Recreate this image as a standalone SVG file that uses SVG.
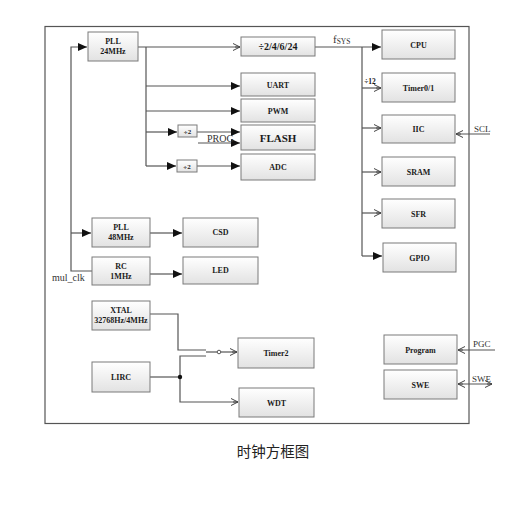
<svg xmlns="http://www.w3.org/2000/svg" width="526" height="515" viewBox="0 0 526 515">
<defs>
<linearGradient id="g" x1="0" y1="0" x2="0" y2="1">
<stop offset="0" stop-color="#ffffff"/>
<stop offset="1" stop-color="#e2e2e2"/>
</linearGradient>
<marker id="af" markerUnits="userSpaceOnUse" markerWidth="10" markerHeight="8" refX="9" refY="4" orient="auto">
<path d="M0,0 L9,4 L0,8 z" fill="#111"/>
</marker>
<marker id="ao" markerUnits="userSpaceOnUse" markerWidth="10" markerHeight="8" refX="8" refY="4" orient="auto">
<path d="M1,0.5 L8,4 L1,7.5 M3,4 L8,4" fill="none" stroke="#444" stroke-width="1"/>
</marker>
<marker id="aos" markerUnits="userSpaceOnUse" markerWidth="10" markerHeight="8" refX="8" refY="4" orient="auto-start-reverse">
<path d="M1,0.5 L8,4 L1,7.5 M3,4 L8,4" fill="none" stroke="#444" stroke-width="1"/>
</marker>
</defs>
<style>
.b{fill:url(#g);stroke:#7a7a7a;stroke-width:1}
.t{font-family:"Liberation Serif",serif;font-weight:bold;font-size:8px;fill:#1a1a1a;text-anchor:middle}
.l{font-family:"Liberation Serif",serif;font-size:10px;fill:#333}
.c{fill:none;stroke:#555;stroke-width:1.2}
.f{marker-end:url(#af)}
.o{marker-end:url(#ao)}
</style>
<rect x="45" y="26.5" width="424" height="397" fill="#fff" stroke="#555" stroke-width="1.2"/>

<g id="connectors">
<path class="c o" d="M138,47 H240"/>
<path class="c" d="M146,47 V166"/>
<path class="c f" d="M146,86 H240"/>
<path class="c f" d="M146,111 H240"/>
<path class="c f" d="M146,132 H177"/>
<path class="c f" d="M197,132 H240"/>
<path class="c f" d="M198,143 H240"/>
<path class="c f" d="M146,166 H176"/>
<path class="c f" d="M197,166 H240"/>
<path class="c f" d="M92,271 H71 V47 H87"/>
<path class="c f" d="M71,233 H91"/>
<path class="c f" d="M150,233 H182"/>
<path class="c f" d="M150,274 H182"/>
<path class="c f" d="M315,47 H381"/>
<path class="c" d="M362,47 V256"/>
<path class="c o" d="M362,88 H381"/>
<path class="c o" d="M362,128 H381"/>
<path class="c o" d="M362,172 H381"/>
<path class="c o" d="M362,213 H381"/>
<path class="c f" d="M362,256 H382"/>
<path class="c o" d="M490,134 H456"/>
<path class="c o" d="M495,350 H458"/>
<path class="c" d="M458,384 H492" marker-start="url(#aos)" marker-end="url(#ao)"/>
<path class="c" d="M150,314 H178 V350 H206"/>
<path class="c" d="M150,377 H180"/>
<path class="c o" d="M206,356 H180 V402 H238"/>
<path class="c" d="M206,352 H217"/>
<circle cx="219" cy="352" r="1.8" fill="#fff" stroke="#555" stroke-width="1"/>
<path class="c o" d="M221,352 H237"/>
<circle cx="180" cy="377" r="2.2" fill="#111"/>
</g>

<g id="pll24"><rect class="b" x="88" y="32" width="50" height="29"/><text class="t" x="113" y="44">PLL</text><text class="t" x="113" y="54">24MHz</text></g>
<g id="div"><rect class="b" x="241" y="37" width="74" height="19"/><text class="t" x="278" y="50" style="font-size:10px">÷2/4/6/24</text></g>
<g id="uart"><rect class="b" x="241" y="73" width="74" height="23"/><text class="t" x="278" y="87.5">UART</text></g>
<g id="pwm"><rect class="b" x="241" y="99" width="74" height="23"/><text class="t" x="278" y="113.5">PWM</text></g>
<g id="flash"><rect class="b" x="241" y="125" width="74" height="25"/><text class="t" x="278" y="141.5" style="font-size:11px">FLASH</text></g>
<g id="adc"><rect class="b" x="241" y="154" width="74" height="26"/><text class="t" x="278" y="169.5">ADC</text></g>
<g id="div2a"><rect class="b" x="178" y="125" width="19" height="12"/><text class="t" x="187.5" y="134" style="font-size:7px">÷2</text></g>
<g id="div2b"><rect class="b" x="177" y="160" width="20" height="12"/><text class="t" x="187" y="169" style="font-size:7px">÷2</text></g>
<g id="pll48"><rect class="b" x="92" y="218" width="58" height="29"/><text class="t" x="121" y="230">PLL</text><text class="t" x="121" y="240">48MHz</text></g>
<g id="rc"><rect class="b" x="92" y="257" width="58" height="28"/><text class="t" x="121" y="269">RC</text><text class="t" x="121" y="279">1MHz</text></g>
<g id="csd"><rect class="b" x="183" y="218" width="75" height="29"/><text class="t" x="220.5" y="235">CSD</text></g>
<g id="led"><rect class="b" x="183" y="257" width="75" height="27"/><text class="t" x="220.5" y="273">LED</text></g>
<g id="cpu"><rect class="b" x="382" y="30" width="73" height="29"/><text class="t" x="418.5" y="47.5">CPU</text></g>
<g id="timer01"><rect class="b" x="382" y="73" width="73" height="29"/><text class="t" x="418.5" y="90.5">Timer0/1</text></g>
<g id="iic"><rect class="b" x="382" y="115" width="73" height="28"/><text class="t" x="418.5" y="132">IIC</text></g>
<g id="sram"><rect class="b" x="382" y="157" width="73" height="29"/><text class="t" x="418.5" y="174.5">SRAM</text></g>
<g id="sfr"><rect class="b" x="382" y="199" width="73" height="29"/><text class="t" x="418.5" y="216.5">SFR</text></g>
<g id="gpio"><rect class="b" x="383" y="243" width="73" height="29"/><text class="t" x="419.5" y="260.5">GPIO</text></g>
<g id="xtal"><rect class="b" x="92" y="301" width="58" height="29"/><text class="t" x="121" y="313">XTAL</text><text class="t" x="121" y="323">32768Hz/4MHz</text></g>
<g id="lirc"><rect class="b" x="92" y="362" width="58" height="30"/><text class="t" x="121" y="380">LIRC</text></g>
<g id="timer2"><rect class="b" x="238" y="338" width="76" height="30"/><text class="t" x="276" y="356">Timer2</text></g>
<g id="wdt"><rect class="b" x="239" y="388" width="75" height="29"/><text class="t" x="276.5" y="405.5">WDT</text></g>
<g id="program"><rect class="b" x="384" y="335" width="73" height="29"/><text class="t" x="420.5" y="352.5">Program</text></g>
<g id="swe"><rect class="b" x="384" y="370" width="73" height="29"/><text class="t" x="420.5" y="387.5">SWE</text></g>

<g id="labels">
<text class="l" x="333" y="43" style="font-size:11px">f<tspan style="font-size:7.5px" dy="1">SYS</tspan></text>
<text class="t" x="370" y="84" style="font-size:7.5px">÷12</text>
<text class="l" x="207" y="142">PROG</text>
<text class="l" x="52" y="281">mul_clk</text>
<text class="l" x="474" y="132" style="font-size:9px">SCL</text>
<text class="l" x="473" y="347" style="font-size:9px">PGC</text>
<text class="l" x="472" y="382" style="font-size:9px">SWE</text>
<text x="273" y="457" text-anchor="middle" style="font-family:'Noto Sans CJK SC',sans-serif;font-size:14.5px;fill:#222">时钟方框图</text>
</g>
</svg>
